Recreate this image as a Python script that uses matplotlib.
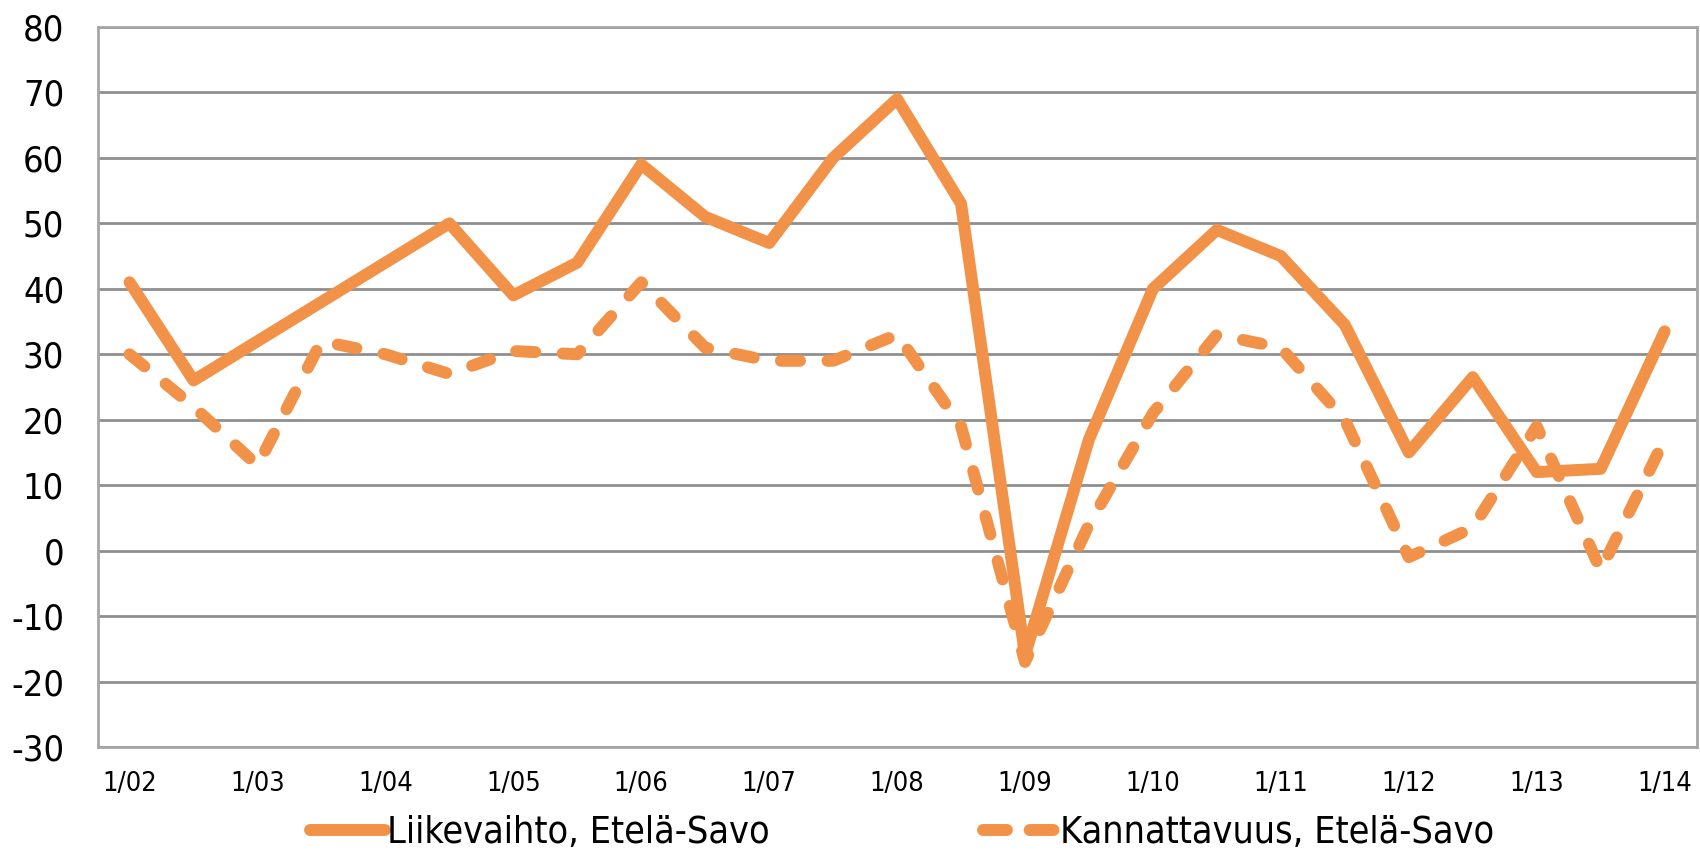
import matplotlib
matplotlib.use("Agg")
import matplotlib.pyplot as plt
from matplotlib.lines import Line2D

# Half-yearly observations 1/02 ... 1/14
liikevaihto = [41, 26, 32, 38, 44, 50, 39, 44, 59, 51, 47, 60, 69, 53, -16,
               17, 40, 49, 45, 34.5, 15, 26.5, 12, 12.5, 33.5]
kannattavuus = [30, 22, 13, 32, 30, 27, 30.5, 30, 41, 31, 29, 29, 33, 19, -17,
                4, 21, 33, 31, 20, -1, 3.5, 19, -3, 17]
tick_labels = ["1/02", "1/03", "1/04", "1/05", "1/06", "1/07", "1/08",
               "1/09", "1/10", "1/11", "1/12", "1/13", "1/14"]
series_names = ["Liikevaihto, Etelä-Savo", "Kannattavuus, Etelä-Savo"]

plt.rcParams['font.family'] = ['DejaVu Sans']
plt.rcParams['font.stretch'] = 'condensed'
plt.rcParams['axes.unicode_minus'] = False

ORANGE = "#F29249"
GRID = "#8F8F8F"

fig = plt.figure(figsize=(17, 8.56), dpi=100)
ax = fig.add_axes([0.0574, 0.1273, 0.9406, 0.8412])

x = list(range(len(liikevaihto)))
lw = 8.6
ax.plot(x, liikevaihto, color=ORANGE, lw=lw, solid_joinstyle='round',
        solid_capstyle='round', zorder=3)
ax.plot(x, kannattavuus, color=ORANGE, lw=lw, dashes=(1.6, 2.3),
        dash_capstyle='round', dash_joinstyle='round', zorder=3)

ax.set_xlim(-0.5, len(x) - 0.5)
ax.set_ylim(-30, 80)
yt = list(range(-30, 81, 10))
ax.set_yticks(yt)
ax.set_yticklabels([f"-{abs(v)}" if v < 0 else str(v) for v in yt])
ax.set_xticks(x[::2])
ax.set_xticklabels(tick_labels)
ax.grid(axis='y', color=GRID, lw=2)
ax.set_axisbelow(True)
for s in ax.spines.values():
    s.set_color("#A6A6A6")
    s.set_linewidth(2)
ax.tick_params(axis='y', length=0, pad=24, labelsize=26)
ax.tick_params(axis='x', length=0, pad=17, labelsize=19.5)

handles = [Line2D([], [], color=ORANGE, lw=lw, solid_capstyle='round'),
           Line2D([], [], color=ORANGE, lw=lw, dashes=(2.0, 1.9),
                  dash_capstyle='round')]
fig.legend(handles, series_names, loc='center', ncol=2,
           bbox_to_anchor=(0.5306, 0.027), frameon=False, fontsize=27,
           handlelength=2.0, handletextpad=0.05, columnspacing=5.7,
           borderaxespad=0)

fig.savefig("out.png", dpi=100)
